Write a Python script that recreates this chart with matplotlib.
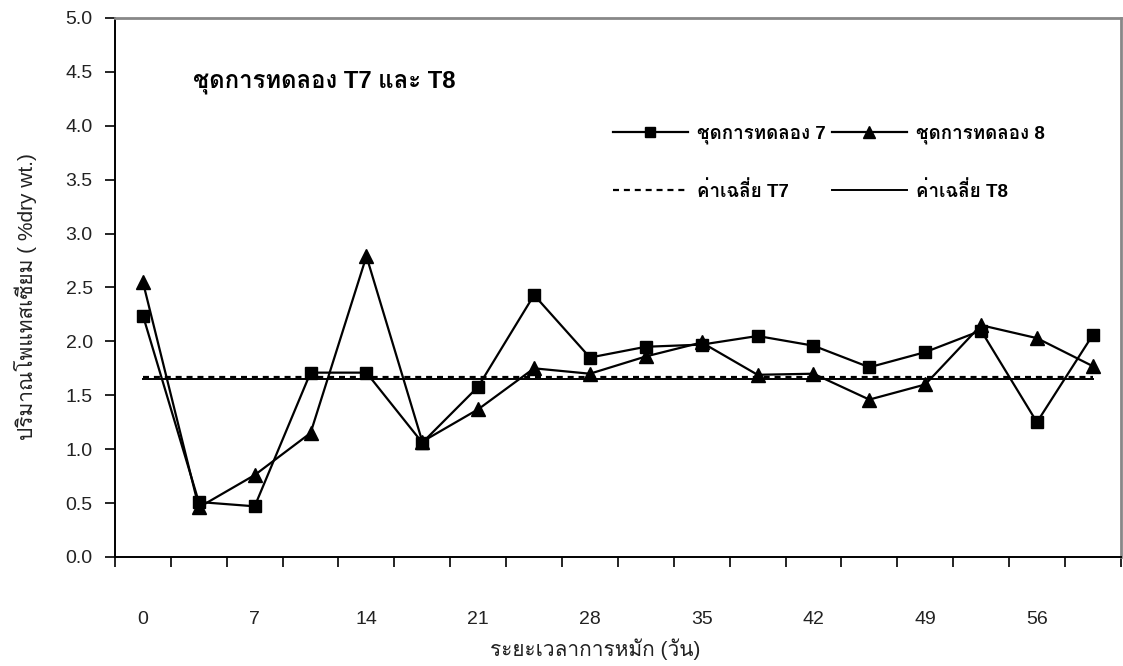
import matplotlib
matplotlib.use("Agg")
import matplotlib.pyplot as plt
from matplotlib.ticker import FixedLocator, NullFormatter, FixedFormatter

# Thai text from Loma, latin/digits from Liberation Sans
FONTS = ['Liberation Sans', 'Loma']
plt.rcParams['font.family'] = FONTS

# composting time, one point every 3.5 days
days = [0, 3.5, 7, 10.5, 14, 17.5, 21, 24.5, 28, 31.5,
        35, 38.5, 42, 45.5, 49, 52.5, 56, 59.5]
day_labels = ['0', '7', '14', '21', '28', '35', '42', '49', '56']

# potassium (%dry wt.)
t7 = [2.24, 0.51, 0.47, 1.71, 1.71, 1.06, 1.58, 2.43, 1.85,
      1.95, 1.97, 2.05, 1.96, 1.76, 1.90, 2.10, 1.25, 2.06]
t8 = [2.55, 0.46, 0.76, 1.15, 2.79, 1.07, 1.37, 1.75, 1.70,
      1.86, 1.99, 1.69, 1.70, 1.46, 1.60, 2.15, 2.03, 1.77]
mean_t7 = 1.67
mean_t8 = 1.655

title = 'ชุดการทดลอง T7 และ T8'
label_t7 = 'ชุดการทดลอง 7'
label_t8 = 'ชุดการทดลอง 8'
label_mean_t7 = 'ค่าเฉลี่ย T7'
label_mean_t8 = 'ค่าเฉลี่ย T8'
xlabel = 'ระยะเวลาการหมัก (วัน)'
ylabel = 'ปริมาณโพแทสเซียม ( %dry wt.)'

# category positions (the chart uses a category axis)
pos = list(range(len(days)))

fig = plt.figure(figsize=(11.23, 6.66), dpi=100)
ax = fig.add_axes([0.1024, 0.1637, 0.8956, 0.8093])

l7, = ax.plot(pos, t7, color='black', lw=1.6, marker='s', ms=8.5,
              label=label_t7)
l8, = ax.plot(pos, t8, color='black', lw=1.6, marker='^', ms=10,
              label=label_t8)
m7, = ax.plot(pos, [mean_t7] * len(pos), color='black', lw=1.6,
              ls=(0, (2.7, 2.2)), label=label_mean_t7)
m8, = ax.plot(pos, [mean_t8] * len(pos), color='black', lw=1.4,
              label=label_mean_t8)

ax.set_xlim(-0.5, len(pos) - 0.5)
ax.set_ylim(0, 5)
ax.set_yticks([i * 0.5 for i in range(11)])
ax.set_yticklabels([f'{i * 0.5:.1f}' for i in range(11)])

# tick marks between categories, labels every 7 days
ax.xaxis.set_major_locator(FixedLocator([i - 0.5 for i in range(len(pos) + 1)]))
ax.xaxis.set_major_formatter(NullFormatter())
ax.xaxis.set_minor_locator(FixedLocator(pos[::2]))
ax.xaxis.set_minor_formatter(FixedFormatter(day_labels))
ax.tick_params(axis='x', which='major', direction='out', length=7, width=1.2)
ax.tick_params(axis='x', which='minor', length=0, pad=39, labelsize=14,
               labelcolor='#222222')
ax.tick_params(axis='y', direction='out', length=7, width=1.2, pad=9,
               labelsize=14, labelcolor='#222222')

for side in ['left', 'bottom']:
    ax.spines[side].set_linewidth(1.4)
for side in ['top', 'right']:
    ax.spines[side].set_color('#888888')
    ax.spines[side].set_linewidth(2)

ax.set_xlabel(xlabel, fontsize=15, color='#222222')
ax.xaxis.set_label_coords(0.477, -0.152)
ax.set_ylabel(ylabel, fontsize=15, color='#222222')
ax.yaxis.set_label_coords(-0.078, 0.484)

ax.text(0.0775, 0.88, title, transform=ax.transAxes, fontsize=17.2,
        fontweight='bold', va='center', ha='left')

ax.legend(handles=[l7, m7, l8, m8], ncol=2, frameon=False,
          loc='upper left', bbox_to_anchor=(0.495, 0.80), borderpad=0,
          borderaxespad=0, handlelength=4.0, handletextpad=0.48,
          columnspacing=0.32, labelspacing=1.95, markerscale=0.8,
          prop={'family': FONTS, 'size': 13.5, 'weight': 'bold'})

fig.savefig('out.png')
